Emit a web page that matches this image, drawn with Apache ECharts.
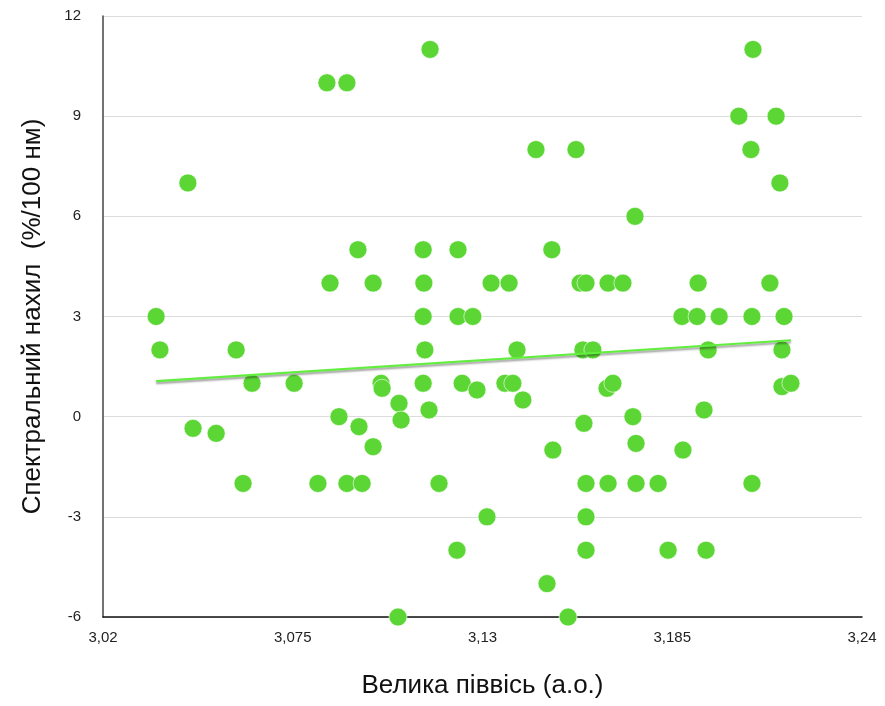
<!DOCTYPE html>
<html>
<head>
<meta charset="utf-8">
<script src="https://cdn.jsdelivr.net/npm/echarts@6/dist/echarts.min.js"></script>
<style>
  html, body { margin: 0; padding: 0; background: #fff; }
  #chart { width: 885px; height: 706px; }
</style>
</head>
<body>
<div id="chart"></div>
<script>
// Semi-major axis (a.u.) of each object
const semiMajorAxis = [
  3.0354, 3.0365, 3.0446, 3.0461, 3.0528, 3.0586, 3.0606, 3.0632, 3.0754, 3.0823,
  3.0849, 3.0858, 3.0884, 3.0907, 3.0907, 3.0939, 3.0942, 3.0951, 3.0983, 3.0983,
  3.1006, 3.1009, 3.1055, 3.1058, 3.1064, 3.1128, 3.1130, 3.1128, 3.1133, 3.1128,
  3.1145, 3.1148, 3.1174, 3.1226, 3.1229, 3.1229, 3.1241, 3.1272, 3.1284, 3.1313,
  3.1325, 3.1365, 3.1377, 3.1388, 3.1400, 3.1417, 3.1455, 3.1487, 3.1501, 3.1504,
  3.1548, 3.1571, 3.1583, 3.1591, 3.1594, 3.1600, 3.1600, 3.1600, 3.1600, 3.1620,
  3.1661, 3.1664, 3.1664, 3.1678, 3.1707, 3.1736, 3.1742, 3.1745, 3.1745, 3.1809,
  3.1838, 3.1878, 3.1881, 3.1922, 3.1925, 3.1942, 3.1948, 3.1954, 3.1986, 3.2043,
  3.2078, 3.2081, 3.2081, 3.2084, 3.2133, 3.2151, 3.2162, 3.2168, 3.2168, 3.2174,
  3.2194
];
// Spectral slope (%/100 nm) of each object
const spectralSlope = [
  3, 2, 7, -0.35, -0.5, 2, -2, 1, 1, -2,
  10, 4, 0, 10, -2, 5, -0.3, -2, 4, -0.9,
  1, 0.85, -6, 0.4, -0.1, 5, 4, 3, 2, 1,
  0.2, 11, -2, -4, 5, 3, 1, 3, 0.8, -3,
  4, 1, 4, 1, 2, 0.5, 8, -5, 5, -1,
  -6, 8, 4, 2, -0.2, 4, -2, -3, -4, 2,
  0.85, 4, -2, 1, 4, 0, 6, -0.8, -2, -2,
  -4, 3, -1, 3, 4, 0.2, -4, 2, 3, 9,
  8, 3, -2, 11, 4, 9, 7, 2, 0.9, 3,
  1
];

const xTicks = [3.02, 3.075, 3.13, 3.185, 3.24];
const yTicks = [-6, -3, 0, 3, 6, 9, 12];

const points = semiMajorAxis.map((x, i) => [x, spectralSlope[i]]);

// Least-squares linear trend
const n = points.length;
const mx = semiMajorAxis.reduce((a, b) => a + b, 0) / n;
const my = spectralSlope.reduce((a, b) => a + b, 0) / n;
let sxy = 0, sxx = 0;
for (let i = 0; i < n; i++) {
  sxy += (semiMajorAxis[i] - mx) * (spectralSlope[i] - my);
  sxx += (semiMajorAxis[i] - mx) ** 2;
}
const slope = sxy / sxx;
const intercept = my - slope * mx;
const xMin = Math.min(...semiMajorAxis), xMax = Math.max(...semiMajorAxis);
const trend = [[xMin, intercept + slope * xMin], [xMax, intercept + slope * xMax]];

const font = 'Liberation Sans, Arial, Helvetica, sans-serif';
const chart = echarts.init(document.getElementById('chart'), null, { renderer: 'canvas' });
chart.setOption({
  animation: false,
  backgroundColor: '#ffffff',
  grid: { left: 103, right: 23, top: 16, bottom: 89, containLabel: false },
  xAxis: {
    type: 'value',
    min: xTicks[0],
    max: xTicks[xTicks.length - 1],
    interval: 0.055,
    name: 'Велика піввісь (а.о.)',
    nameLocation: 'middle',
    nameGap: 56,
    nameTextStyle: { fontFamily: font, fontSize: 26, color: '#111' },
    axisLine: { show: true, onZero: false, lineStyle: { color: '#111', width: 1.5 } },
    axisTick: { show: false },
    splitLine: { show: false },
    axisLabel: {
      fontFamily: font, fontSize: 15, color: '#222', margin: 13,
      formatter: v => String(parseFloat(v.toFixed(3))).replace('.', ',')
    }
  },
  yAxis: {
    type: 'value',
    min: yTicks[0],
    max: yTicks[yTicks.length - 1],
    interval: 3,
    name: 'Спектральний нахил  (%/100 нм)',
    nameLocation: 'middle',
    nameGap: 57,
    nameTextStyle: { fontFamily: font, fontSize: 26, color: '#111' },
    axisLine: { show: true, onZero: false, lineStyle: { color: '#444', width: 1.5 } },
    axisTick: { show: false },
    splitLine: { show: true, lineStyle: { color: '#dcdcdc', width: 1 } },
    axisLabel: { fontFamily: font, fontSize: 15, color: '#222', margin: 22 }
  },
  series: [
    {
      type: 'scatter',
      data: points,
      symbolSize: 18,
      itemStyle: { color: '#5bd634', borderColor: '#ffffff', borderWidth: 0.6, opacity: 1 },
      z: 2
    },
    {
      type: 'line',
      data: trend,
      symbol: 'none',
      lineStyle: {
        color: '#62ee3e', width: 2.2,
        shadowColor: 'rgba(0,0,0,0.4)', shadowBlur: 2, shadowOffsetY: 2
      },
      z: 3,
      silent: true
    }
  ]
});
</script>
</body>
</html>
